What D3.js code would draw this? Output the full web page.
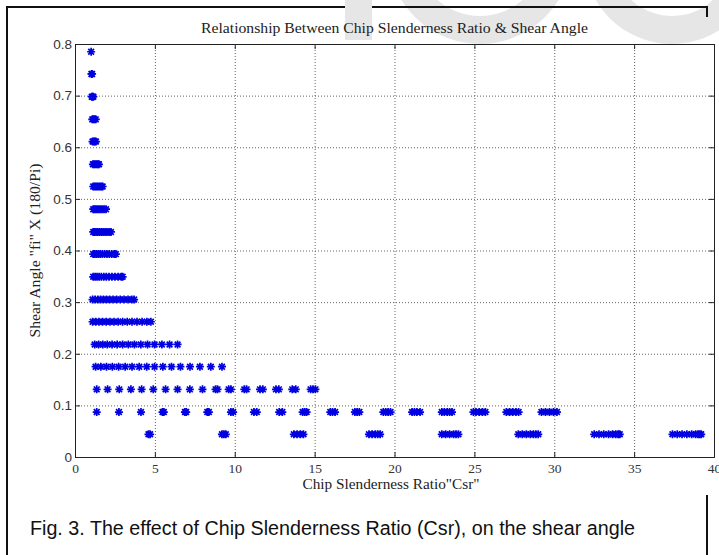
<!DOCTYPE html>
<html><head><meta charset="utf-8">
<script src="https://cdn.jsdelivr.net/npm/d3@7"></script>
<style>body{margin:0;background:#fff}svg{display:block}</style>
</head><body>
<svg id="chart" width="719" height="555"></svg>
<script>
// Shear angle levels (radians) — one row of markers per level
const shearAngle = [0.044, 0.087, 0.131, 0.175, 0.218, 0.262, 0.305, 0.349, 0.393,
                    0.436, 0.480, 0.524, 0.567, 0.611, 0.654, 0.698, 0.742, 0.785];
// Chip slenderness ratio values observed at each shear-angle level
const csrValues = [
  [4.6,4.7, 9.2,9.32,9.44, 13.7,13.9,14.1,14.3, 18.4,18.6,18.8,18.95,19.1,
   22.96,23.2,23.45,23.7,23.85,24.0, 27.75,28.0,28.25,28.5,28.7,28.85,29.0,
   32.5,32.8,33.1,33.4,33.65,33.85,34.0,34.1, 37.4,37.7,38.0,38.3,38.6,38.85,39.0,39.1,39.2],
  [1.36, 2.75, 4.13, 5.48,5.56, 6.88,6.96, 8.28,8.38, 9.76,9.9, 11.2,11.38, 12.78,12.98,
   14.25,14.38,14.5, 15.98,16.12,16.28, 17.52,17.66,17.8, 19.3,19.45,19.6,19.75,
   21.1,21.25,21.4,21.6, 22.96,23.12,23.3,23.45,23.6, 24.94,25.1,25.3,25.5,25.69,
   27.0,27.2,27.4,27.6,27.77, 29.2,29.45,29.7,29.95,30.17],
  [1.36, 2.04, 2.77, 3.5, 4.17, 4.9, 5.67, 6.42, 7.19, 7.98, 8.8,8.92, 9.62,9.76,
   10.6,10.74, 11.58,11.76, 12.58,12.76, 13.6,13.82, 14.75,14.9,15.05],
  [1.29,1.62,1.97,2.34,2.73,3.14,3.57,4.02,4.49,4.98,5.5,6.04,6.6,7.2,7.82,8.5,9.2],
  [1.23,1.48,1.74,2.02,2.32,2.64,2.98,3.34,3.72,4.12,4.54,4.98,5.44,5.92,6.42],
  [1.1,1.3,1.5,1.72,1.95,2.19,2.44,2.7,2.98,3.27,3.57,3.88,4.2,4.5,4.75],
  [1.1,1.26,1.43,1.6,1.78,1.97,2.17,2.38,2.6,2.83,3.07,3.32,3.55,3.7],
  [1.14,1.26,1.38,1.51,1.65,1.8,1.96,2.13,2.31,2.5,2.7,2.9,2.98],
  [1.14,1.24,1.35,1.46,1.58,1.71,1.85,2.0,2.15,2.3,2.45,2.56],
  [1.14,1.23,1.32,1.42,1.53,1.64,1.76,1.88,2.0,2.13,2.25],
  [1.14,1.22,1.31,1.4,1.5,1.6,1.71,1.82,1.94],
  [1.14,1.22,1.3,1.39,1.48,1.57,1.66,1.73],
  [1.12,1.2,1.28,1.36,1.44,1.5],
  [1.1,1.17,1.24,1.31],
  [1.08,1.15,1.22,1.3],
  [1.05,1.1,1.15],
  [1.03,1.07],
  [1.01]
];
const xTicks = [0, 5, 10, 15, 20, 25, 30, 35, 40];
const yTicks = [0, 0.1, 0.2, 0.3, 0.4, 0.5, 0.6, 0.7, 0.8];
const yTickLabels = ["0", "0.1", "0.2", "0.3", "0.4", "0.5", "0.6", "0.7", "0.8"];
const chartTitle = "Relationship Between Chip Slenderness Ratio & Shear Angle";
const xTitle = "Chip Slenderness Ratio\"Csr\"";
const yTitle = "Shear Angle \"fi\" X (180/Pi)";
const caption = "Fig. 3. The effect of Chip Slenderness Ratio (Csr), on the shear angle";

const points = [];
shearAngle.forEach((a, i) => csrValues[i].forEach(c => points.push({csr: c, angle: a})));

const svg = d3.select("#chart");
const m = {left: 75, right: 714, top: 44, bottom: 457};
const x = d3.scaleLinear().domain([0, 40]).range([m.left, m.right]);
const y = d3.scaleLinear().domain([0, 0.8]).range([m.bottom, m.top]);

svg.append("rect").attr("width", 719).attr("height", 555).attr("fill", "#fff");

// faint watermark fragments at the top edge
const wm = svg.append("g").attr("fill", "#e6e6e6");
const ring = d3.arc();
wm.append("path").attr("transform", "translate(480,-48)")
  .attr("d", ring({innerRadius: 64, outerRadius: 92, startAngle: Math.PI * 0.55, endAngle: Math.PI * 1.45}));
wm.append("path").attr("transform", "translate(672,-44)")
  .attr("d", ring({innerRadius: 60, outerRadius: 88, startAngle: Math.PI * 0.6, endAngle: Math.PI * 1.5}));

// outer frame pieces
const frame = svg.append("g").attr("stroke", "#111").attr("stroke-width", 2).attr("fill", "none");
frame.append("path").attr("d", "M7,555 V7 H707 V17");
frame.append("path").attr("d", "M707,495 V555");
svg.append("rect").attr("x", 345).attr("y", 0).attr("width", 27).attr("height", 40).attr("fill", "#e6e6e6");

// grid
const grid = svg.append("g").attr("stroke", "#666").attr("stroke-width", 1)
  .attr("stroke-dasharray", "1,2");
grid.selectAll("line.gx").data(xTicks.slice(1, -1)).join("line")
  .attr("x1", d => x(d) + 0.5).attr("x2", d => x(d) + 0.5)
  .attr("y1", m.top).attr("y2", m.bottom);
grid.selectAll("line.gy").data(yTicks.slice(1, -1)).join("line")
  .attr("y1", d => y(d) + 0.5).attr("y2", d => y(d) + 0.5)
  .attr("x1", m.left).attr("x2", m.right);

// axes
const fmtY = (d, i) => yTickLabels[i];
const gL = svg.append("g").attr("transform", `translate(${m.left},0)`)
  .call(d3.axisLeft(y).tickValues(yTicks).tickFormat(fmtY).tickSize(-5).tickPadding(3));
const gR = svg.append("g").attr("transform", `translate(${m.right},0)`)
  .call(d3.axisRight(y).tickValues(yTicks).tickFormat("").tickSize(-5));
const gB = svg.append("g").attr("transform", `translate(0,${m.bottom})`)
  .call(d3.axisBottom(x).tickValues(xTicks).tickFormat(d3.format("d")).tickSize(-5).tickPadding(6));
const gT = svg.append("g").attr("transform", `translate(0,${m.top})`)
  .call(d3.axisTop(x).tickValues(xTicks).tickFormat("").tickSize(-5));
[gL, gR, gB, gT].forEach(g => {
  g.selectAll("path.domain").attr("stroke", "#222");
  g.selectAll(".tick line").attr("stroke", "#222");
});
gL.selectAll("text").attr("font-family", "Liberation Sans, Arial, sans-serif")
  .attr("font-size", 13.5).attr("fill", "#333");
gB.selectAll("text").attr("font-family", "Liberation Serif, Times New Roman, serif")
  .attr("font-size", 13.5).attr("fill", "#333");

// markers (MATLAB-style '*')
const star = {
  draw(ctx, size) {
    const r = Math.sqrt(size) / 2, q = r * 0.72;
    ctx.moveTo(-r, 0); ctx.lineTo(r, 0);
    ctx.moveTo(0, -r); ctx.lineTo(0, r);
    ctx.moveTo(-q, -q); ctx.lineTo(q, q);
    ctx.moveTo(-q, q); ctx.lineTo(q, -q);
  }
};
svg.append("g").selectAll("path").data(points).join("path")
  .attr("transform", d => `translate(${x(d.csr)},${y(d.angle)})`)
  .attr("d", d3.symbol(star, 64)())
  .attr("fill", "none").attr("stroke", "#0000e0").attr("stroke-width", 1.7);

// texts
const serif = "Liberation Serif, Times New Roman, serif";
svg.append("text").attr("x", (m.left + m.right) / 2).attr("y", 33)
  .attr("text-anchor", "middle").attr("font-family", serif)
  .attr("font-size", 14.5).attr("fill", "#222")
  .attr("textLength", 387).attr("lengthAdjust", "spacingAndGlyphs").text(chartTitle);
svg.append("text").attr("x", 391).attr("y", 489)
  .attr("text-anchor", "middle").attr("font-family", serif)
  .attr("font-size", 14.5).attr("fill", "#222")
  .attr("textLength", 177).attr("lengthAdjust", "spacingAndGlyphs").text(xTitle);
svg.append("text").attr("transform", `translate(40,${(m.top + m.bottom) / 2}) rotate(-90)`)
  .attr("text-anchor", "middle").attr("font-family", serif)
  .attr("font-size", 14.5).attr("fill", "#222")
  .attr("textLength", 174).attr("lengthAdjust", "spacingAndGlyphs").text(yTitle);
svg.append("text").attr("x", 30).attr("y", 535)
  .attr("font-family", "Liberation Sans, Arial, sans-serif")
  .attr("font-size", 19.5).attr("fill", "#111")
  .attr("textLength", 605).attr("lengthAdjust", "spacingAndGlyphs").text(caption);
</script>
</body></html>
